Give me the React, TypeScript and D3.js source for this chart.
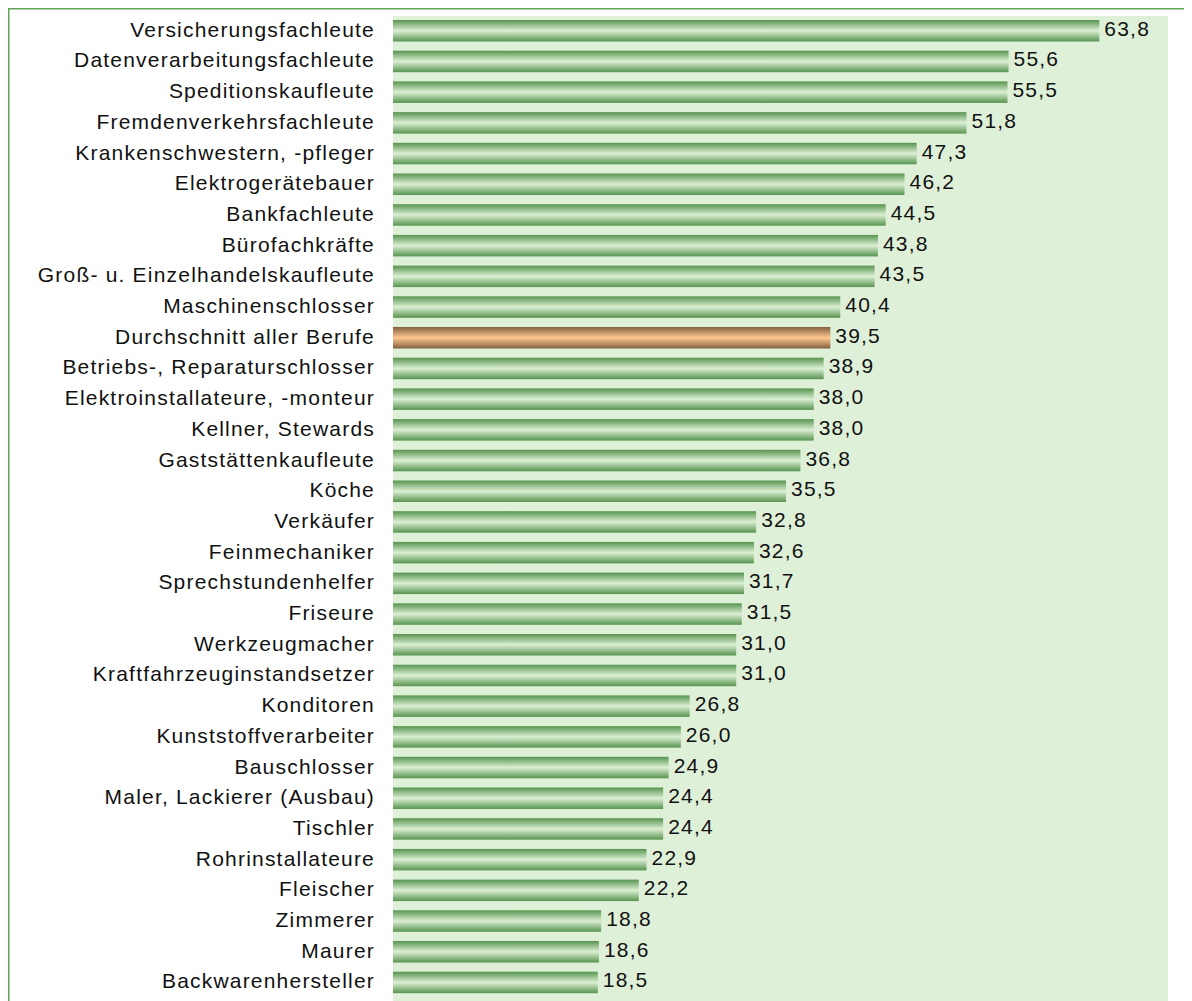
import React, { useEffect, useRef } from 'react';
import * as d3 from 'd3';

const width = 1184;
const height = 993;
const margin = { top: 8, left: 385, right: 24 };

const categories = [
  'Versicherungsfachleute',
  'Datenverarbeitungsfachleute',
  'Speditionskaufleute',
  'Fremdenverkehrsfachleute',
  'Krankenschwestern, -pfleger',
  'Elektrogerätebauer',
  'Bankfachleute',
  'Bürofachkräfte',
  'Groß- u. Einzelhandelskaufleute',
  'Maschinenschlosser',
  'Durchschnitt aller Berufe',
  'Betriebs-, Reparaturschlosser',
  'Elektroinstallateure, -monteur',
  'Kellner, Stewards',
  'Gaststättenkaufleute',
  'Köche',
  'Verkäufer',
  'Feinmechaniker',
  'Sprechstundenhelfer',
  'Friseure',
  'Werkzeugmacher',
  'Kraftfahrzeuginstandsetzer',
  'Konditoren',
  'Kunststoffverarbeiter',
  'Bauschlosser',
  'Maler, Lackierer (Ausbau)',
  'Tischler',
  'Rohrinstallateure',
  'Fleischer',
  'Zimmerer',
  'Maurer',
  'Backwarenhersteller',
];

const values = [
  63.8, 55.6, 55.5, 51.8, 47.3, 46.2, 44.5, 43.8, 43.5, 40.4, 39.5, 38.9, 38.0,
  38.0, 36.8, 35.5, 32.8, 32.6, 31.7, 31.5, 31.0, 31.0, 26.8, 26.0, 24.9, 24.4,
  24.4, 22.9, 22.2, 18.8, 18.6, 18.5,
];

const highlight = 'Durchschnitt aller Berufe';

const fmt = (v: number) => v.toFixed(1).replace('.', ',');

export default function App() {
  const ref = useRef<SVGSVGElement>(null);

  useEffect(() => {
    document.documentElement.style.overflow = 'hidden';
    if (!ref.current) return;
    const svg = d3.select(ref.current);
    svg.selectAll('*').remove();

    const defs = svg.append('defs');
    const addGrad = (id: string, edge: string, mid: string) => {
      const g = defs
        .append('linearGradient')
        .attr('id', id)
        .attr('x1', 0)
        .attr('y1', 0)
        .attr('x2', 0)
        .attr('y2', 1);
      g.append('stop').attr('offset', '0%').attr('stop-color', edge);
      g.append('stop').attr('offset', '50%').attr('stop-color', mid);
      g.append('stop').attr('offset', '100%').attr('stop-color', edge);
    };
    addGrad('green', '#57944f', '#dcefd4');
    addGrad('orange', '#83603f', '#ffc890');

    const x = d3
      .scaleLinear()
      .domain([0, 70])
      .range([margin.left, width - margin.right]);

    const y = d3
      .scaleBand<string>()
      .domain(categories)
      .range([margin.top - 0.6, margin.top - 0.6 + categories.length * 30.7])
      .paddingInner(0.3)
      .paddingOuter(0.15);

    // plot area
    svg
      .append('rect')
      .attr('x', x(0))
      .attr('y', margin.top)
      .attr('width', x(70) - x(0))
      .attr('height', height - margin.top)
      .attr('fill', '#dff0d8');

    // frame (only top and left edges are in view)
    svg
      .append('path')
      .attr('d', `M0.75,${height} V0.75 H${width}`)
      .attr('fill', 'none')
      .attr('stroke', '#62a55a')
      .attr('stroke-width', 1.5);

    const rows = categories.map((c, i) => ({ c, v: values[i] }));

    svg
      .selectAll('rect.bar')
      .data(rows)
      .enter()
      .append('rect')
      .attr('class', 'bar')
      .attr('x', x(0))
      .attr('y', (d) => y(d.c) ?? 0)
      .attr('width', (d) => x(d.v) - x(0))
      .attr('height', y.bandwidth())
      .attr('fill', (d) => (d.c === highlight ? 'url(#orange)' : 'url(#green)'));

    const textStyle = (sel: d3.Selection<SVGTextElement, any, any, any>) =>
      sel
        .attr('font-family', '"Liberation Sans", Arial, sans-serif')
        .attr('font-size', 21)
        .attr('letter-spacing', 1.2)
        .attr('fill', '#111');

    svg
      .selectAll('text.cat')
      .data(rows)
      .enter()
      .append('text')
      .attr('class', 'cat')
      .attr('x', 367)
      .attr('y', (d) => (y(d.c) ?? 0) + y.bandwidth() / 2 + 6)
      .attr('text-anchor', 'end')
      .call(textStyle)
      .text((d) => d.c);

    svg
      .selectAll('text.val')
      .data(rows)
      .enter()
      .append('text')
      .attr('class', 'val')
      .attr('x', (d) => x(d.v) + 5)
      .attr('y', (d) => (y(d.c) ?? 0) + y.bandwidth() / 2 + 5)
      .call(textStyle)
      .text((d) => fmt(d.v));
  }, []);

  return <svg ref={ref} width={width} height={height} style={{ display: 'block' }} />;
}
